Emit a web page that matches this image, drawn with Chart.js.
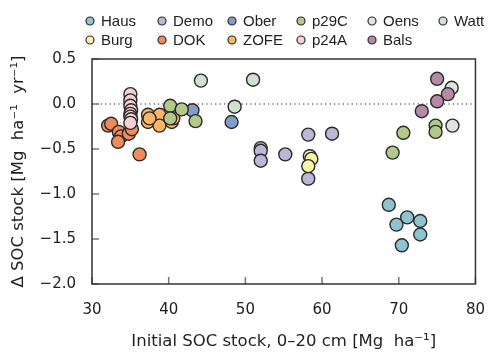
<!DOCTYPE html>
<html>
<head>
<meta charset="utf-8">
<script src="https://cdn.jsdelivr.net/npm/chart.js@4"></script>
<style>
  html, body { margin: 0; padding: 0; background: #fff; }
  #wrap { width: 494px; height: 352px; position: relative; }
</style>
</head>
<body>
<div id="wrap"><canvas id="soc"></canvas></div>
<script>
// site names in legend order (row by row)
const sites = ['Haus', 'Demo', 'Ober', 'p29C', 'Oens', 'Watt', 'Burg', 'DOK', 'ZOFE', 'p24A', 'Bals'];
const colors = ['#8ec4d0', '#bcb7d4', '#7f9fc8', '#b3c98a', '#e2e2e2', '#cfe2d2', '#fcf6a9', '#ef8c5e', '#f9b669', '#f7d0d4', '#b68aa6'];

// [initial SOC stock, delta SOC stock]
const haus = [[68.7, -1.12], [71.1, -1.26], [69.7, -1.34], [72.8, -1.30], [72.8, -1.45], [70.4, -1.57]];
const demo = [[52.0, -0.49], [52.0, -0.52], [52.0, -0.63], [55.2, -0.56], [58.2, -0.34], [61.3, -0.33], [58.2, -0.83]];
const ober = [[43.1, -0.07], [48.2, -0.20]];
const p29c = [[40.2, -0.02], [41.7, -0.06], [40.2, -0.16], [43.5, -0.19], [70.6, -0.32], [69.2, -0.54], [74.8, -0.24], [74.8, -0.31]];
const oens = [[76.9, 0.18], [77.0, -0.24]];
const watt = [[44.2, 0.26], [51.0, 0.27], [48.6, -0.03]];
const burg = [[58.4, -0.58], [58.6, -0.61], [58.2, -0.69]];
const dok = [[32.1, -0.24], [32.5, -0.22], [33.5, -0.31], [33.8, -0.36], [33.4, -0.42], [34.8, -0.33], [35.2, -0.28], [36.2, -0.56]];
const zofe = [[37.3, -0.12], [37.3, -0.20], [38.8, -0.12], [38.8, -0.24], [40.4, -0.20], [40.6, -0.16], [37.5, -0.16]];
const p24a = [[35.0, 0.11], [35.0, 0.04], [35.0, -0.02], [35.1, -0.07], [35.0, -0.11], [35.0, -0.14], [35.1, -0.17], [35.0, -0.21]];
const bals = [[75.0, 0.28], [76.4, 0.11], [75.0, 0.03], [73.0, -0.08]];

const seriesData = [haus, demo, ober, p29c, oens, watt, burg, dok, zofe, p24a, bals];
// draw order: later ones on top
const drawOrder = ['Haus', 'Demo', 'Ober', 'Oens', 'Watt', 'Burg', 'DOK', 'ZOFE', 'p29C', 'p24A', 'Bals'];

const xTicks = [30, 40, 50, 60, 70, 80];
const yTicks = [-2.0, -1.5, -1.0, -0.5, 0.0, 0.5];

const FONT = '"DejaVu Sans", sans-serif';
const LEG_FONT = '"Liberation Sans", Arial, sans-serif';

const datasets = sites.map((name, i) => ({
    label: name,
    data: seriesData[i].map(p => ({ x: p[0], y: p[1] })),
    backgroundColor: colors[i],
    borderColor: '#2b2b2b',
    borderWidth: 1.4,
    pointRadius: 6.5,
    order: -drawOrder.indexOf(name)
}));

const fmt = v => (v < 0 ? '\u2212' : '') + Math.abs(v).toFixed(1);

// box, inward ticks, zero line, titles and legend
const decor = {
    id: 'decor',
    beforeDatasetsDraw(chart) {
        const { ctx, chartArea: a, scales: { x, y } } = chart;
        ctx.save();
        ctx.strokeStyle = '#222';
        ctx.lineWidth = 1;
        ctx.setLineDash([1.2, 3.2]);
        const y0 = y.getPixelForValue(0);
        ctx.beginPath();
        ctx.moveTo(a.left, y0);
        ctx.lineTo(a.right, y0);
        ctx.stroke();
        ctx.setLineDash([]);
        ctx.strokeStyle = '#777';
        ctx.lineWidth = 1.5;
        xTicks.forEach(t => {
            const px = x.getPixelForValue(t);
            ctx.beginPath();
            ctx.moveTo(px, a.bottom);
            ctx.lineTo(px, a.bottom - 7);
            ctx.stroke();
        });
        yTicks.forEach(t => {
            const py = y.getPixelForValue(t);
            ctx.beginPath();
            ctx.moveTo(a.left, py);
            ctx.lineTo(a.left + 7, py);
            ctx.stroke();
        });
        ctx.restore();
    },
    afterDraw(chart) {
        const { ctx, chartArea: a } = chart;
        ctx.save();
        ctx.strokeStyle = '#333';
        ctx.lineWidth = 1.5;
        ctx.strokeRect(a.left, a.top, a.right - a.left, a.bottom - a.top);

        ctx.fillStyle = '#222';
        ctx.font = '16.5px ' + FONT;
        ctx.textAlign = 'center';
        ctx.textBaseline = 'middle';
        ctx.fillText('Initial SOC stock, 0\u201320 cm [Mg  ha\u207B\u00B9]', (a.left + a.right) / 2, 342);
        ctx.translate(19, (a.top + a.bottom) / 2);
        ctx.rotate(-Math.PI / 2);
        ctx.fillText('\u0394 SOC stock [Mg  ha\u207B\u00B9  yr\u207B\u00B9]', 0, 0);
        ctx.restore();

        // legend, 6 columns x 2 rows
        const colX = [90, 162, 232, 301, 372, 443];
        const rowY = [21, 40];
        ctx.save();
        ctx.font = '15px ' + LEG_FONT;
        ctx.textAlign = 'left';
        ctx.textBaseline = 'middle';
        sites.forEach((name, i) => {
            const cx = colX[i % 6], cy = rowY[Math.floor(i / 6)];
            ctx.beginPath();
            ctx.arc(cx, cy, 4, 0, Math.PI * 2);
            ctx.fillStyle = colors[i];
            ctx.fill();
            ctx.lineWidth = 1.2;
            ctx.strokeStyle = '#2b2b2b';
            ctx.stroke();
            ctx.fillStyle = '#222';
            ctx.fillText(name, cx + 11, cy + 1);
        });
        ctx.restore();
    }
};

new Chart(document.getElementById('soc'), {
    type: 'scatter',
    data: { datasets },
    options: {
        responsive: true,
        maintainAspectRatio: false,
        animation: false,
        layout: { padding: { top: 59, right: -2, left: 0, bottom: 0 } },
        plugins: { legend: { display: false }, tooltip: { enabled: false } },
        scales: {
            x: {
                type: 'linear', min: 30, max: 80,
                afterBuildTicks: s => { s.ticks = xTicks.map(v => ({ value: v })); },
                afterFit: s => { s.height = 68; },
                grid: { display: false },
                border: { display: false },
                ticks: { color: '#222', padding: 9, font: { family: FONT, size: 15 }, maxRotation: 0 }
            },
            y: {
                type: 'linear', min: -2, max: 0.5,
                afterBuildTicks: s => { s.ticks = yTicks.map(v => ({ value: v })); },
                afterFit: s => { s.width = 92; },
                grid: { display: false },
                border: { display: false },
                ticks: { color: '#222', padding: 8, font: { family: FONT, size: 15 }, callback: v => fmt(v) }
            }
        }
    },
    plugins: [decor]
});
</script>
</body>
</html>
